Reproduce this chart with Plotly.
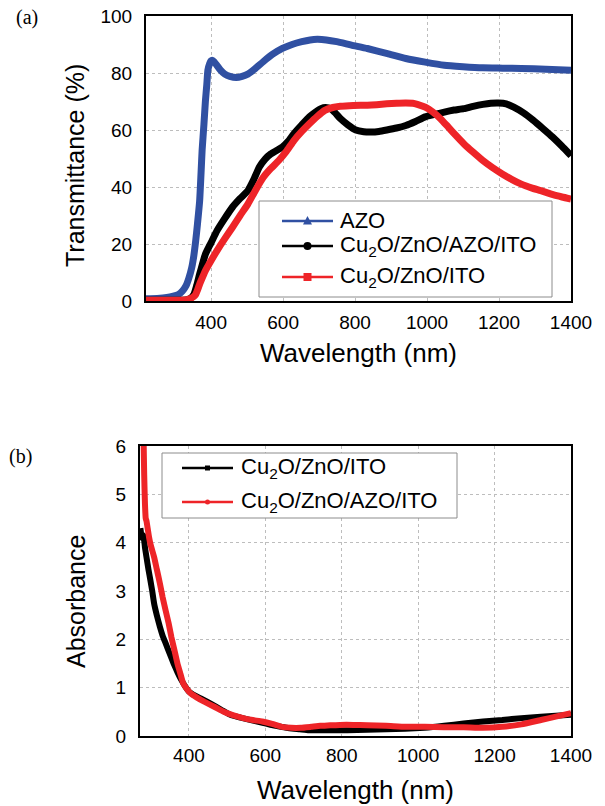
import plotly.graph_objects as go

# ---------------- (a) Transmittance data ----------------
azo_x = [219, 250, 277, 295, 309, 320, 330, 338, 346, 352, 357, 362, 368, 372, 375, 380, 384, 388, 391, 396, 400, 403, 408, 416, 426, 438, 452, 470, 486, 502, 522, 545, 570, 598, 625, 652, 675, 695, 720, 749, 790, 834, 890, 941, 995, 1048, 1100, 1155, 1210, 1262, 1330, 1400]
azo_y = [0.8, 0.9, 1.2, 1.7, 2.3, 3.5, 5.3, 8.0, 11.7, 16.0, 21.0, 27.0, 35.0, 45.0, 53.0, 62.0, 70.0, 76.0, 81.0, 83.3, 84.3, 84.5, 84.0, 82.7, 81.0, 79.6, 78.8, 78.4, 78.8, 79.6, 81.5, 84.0, 86.5, 88.6, 90.0, 91.0, 91.6, 91.8, 91.6, 91.0, 89.8, 88.6, 86.8, 85.1, 83.8, 82.7, 82.2, 81.8, 81.7, 81.6, 81.3, 81.0]

blk_x = [219, 280, 330, 342, 352, 360, 368, 376, 384, 400, 416, 437, 459, 480, 502, 518, 534, 550, 566, 582, 598, 614, 630, 652, 673, 690, 705, 718, 732, 745, 759, 780, 802, 824, 845, 866, 888, 915, 941, 968, 995, 1022, 1048, 1075, 1102, 1128, 1155, 1177, 1198, 1220, 1241, 1268, 1295, 1322, 1349, 1375, 1400]
blk_y = [0.3, 0.3, 0.4, 0.9, 2.3, 5.5, 9.4, 13.0, 16.4, 20.5, 24.6, 28.8, 32.9, 35.9, 38.7, 42.5, 47.0, 49.8, 51.6, 52.8, 54.0, 56.0, 58.7, 61.8, 64.6, 66.3, 67.5, 67.9, 67.5, 66.0, 64.0, 61.8, 60.0, 59.4, 59.3, 59.5, 60.0, 60.7, 61.6, 63.0, 64.6, 65.5, 66.3, 67.0, 67.5, 68.3, 69.0, 69.4, 69.5, 69.2, 68.0, 66.0, 63.4, 60.5, 57.5, 54.3, 51.0]

red_x = [219, 280, 330, 341, 350, 357, 362, 368, 376, 384, 400, 416, 437, 459, 480, 502, 523, 545, 566, 588, 609, 630, 652, 673, 695, 716, 738, 759, 795, 834, 860, 888, 915, 941, 960, 973, 995, 1016, 1038, 1059, 1080, 1102, 1128, 1155, 1182, 1209, 1235, 1262, 1290, 1316, 1350, 1375, 1400]
red_y = [0.3, 0.3, 0.4, 0.8, 1.4, 2.3, 3.8, 5.9, 8.3, 10.6, 14.2, 17.6, 21.7, 25.8, 29.9, 34.0, 38.8, 43.4, 46.5, 49.3, 52.5, 56.3, 59.5, 62.2, 64.8, 66.9, 67.9, 68.3, 68.6, 68.7, 68.9, 69.2, 69.4, 69.5, 69.4, 69.0, 68.0, 66.3, 63.9, 61.0, 58.1, 55.2, 52.2, 49.3, 46.8, 44.6, 42.7, 41.0, 39.7, 38.7, 37.3, 36.5, 35.8]

# ---------------- (b) Absorbance data ----------------
abs_blk_x = [273, 277, 281, 285, 289, 294, 299, 304, 309, 316, 324, 331, 339, 350, 360, 370, 380, 390, 400, 415, 430, 450, 471, 490, 511, 535, 562, 590, 613, 640, 663, 690, 714, 760, 815, 866, 916, 966, 1017, 1068, 1119, 1170, 1220, 1270, 1321, 1360, 1400]
abs_blk_y = [4.3, 4.1, 4.15, 3.9, 3.7, 3.45, 3.23, 3.0, 2.74, 2.5, 2.26, 2.08, 1.92, 1.7, 1.5, 1.32, 1.16, 1.03, 0.92, 0.84, 0.78, 0.70, 0.61, 0.52, 0.43, 0.38, 0.33, 0.28, 0.23, 0.19, 0.16, 0.14, 0.12, 0.12, 0.12, 0.13, 0.14, 0.15, 0.17, 0.21, 0.26, 0.30, 0.33, 0.37, 0.40, 0.42, 0.44]

abs_red_x = [279, 281, 283, 285, 287, 289, 292, 296, 300, 309, 316, 324, 331, 339, 347, 354, 362, 370, 378, 385, 395, 405, 420, 440, 465, 491, 515, 542, 567, 592, 618, 643, 668, 693, 720, 744, 770, 795, 830, 866, 916, 967, 1017, 1068, 1119, 1169, 1220, 1270, 1321, 1360, 1400]
abs_red_y = [7.0, 6.3, 5.4, 4.8, 4.5, 4.45, 4.3, 4.1, 3.95, 3.7, 3.45, 3.16, 2.88, 2.6, 2.33, 2.05, 1.78, 1.5, 1.28, 1.09, 0.97, 0.88, 0.80, 0.71, 0.61, 0.50, 0.43, 0.37, 0.33, 0.30, 0.25, 0.19, 0.17, 0.17, 0.19, 0.21, 0.22, 0.23, 0.23, 0.22, 0.21, 0.19, 0.19, 0.18, 0.18, 0.17, 0.19, 0.24, 0.33, 0.40, 0.47]

wl_ticks = [400, 600, 800, 1000, 1200, 1400]
top_yticks = [0, 20, 40, 60, 80, 100]
bot_yticks = [0, 1, 2, 3, 4, 5, 6]

# legend labels
legend_a = ["AZO", "Cu<sub>2</sub>O/ZnO/AZO/ITO", "Cu<sub>2</sub>O/ZnO/ITO"]
legend_b = ["Cu<sub>2</sub>O/ZnO/ITO", "Cu<sub>2</sub>O/ZnO/AZO/ITO"]

BLUE = "#3050A2"
RED = "#EE2428"
BLACK = "#000000"
FONT = "Liberation Sans, Arial, sans-serif"
SERIF = "Liberation Serif, Times New Roman, serif"
W, H = 605, 806
OFF = 0  # page body margin is removed below, so figure pixels == page pixels


def X(px):
    return (px - OFF) / W


def Y(py):
    return 1 - (py - OFF) / H


fig = go.Figure()

# --- (a) curves ---
for x, y, c, n in [(azo_x, azo_y, BLUE, legend_a[0]), (blk_x, blk_y, BLACK, legend_a[1]), (red_x, red_y, RED, legend_a[2])]:
    fig.add_trace(go.Scatter(x=x, y=y, mode="lines", name=n, line=dict(color=c, width=7, shape="spline", smoothing=0.5),
                             showlegend=False, xaxis="x", yaxis="y"))

# --- (b) curves ---
fig.add_trace(go.Scatter(x=abs_blk_x, y=abs_blk_y, mode="lines", name=legend_b[0],
                         line=dict(color=BLACK, width=6, shape="spline", smoothing=0.4),
                         showlegend=False, xaxis="x2", yaxis="y2"))
fig.add_trace(go.Scatter(x=abs_red_x, y=abs_red_y, mode="lines", name=legend_b[1],
                         line=dict(color=RED, width=6, shape="spline", smoothing=0.4),
                         showlegend=False, xaxis="x2", yaxis="y2"))

axis_common = dict(showline=True, mirror=True, linecolor="black", linewidth=2,
                   showgrid=True, gridcolor="#bdbdbd", griddash="dot", gridwidth=1,
                   zeroline=False, ticks="outside", tickcolor="rgba(0,0,0,0)",
                   ticklabeloverflow="allow", automargin=False,
                   tickfont=dict(family=FONT, size=19, color="black"))

shapes = []
annotations = []


def legend_box(x0, y0, x1, y1):
    shapes.append(dict(type="rect", xref="paper", yref="paper", x0=X(x0), x1=X(x1), y0=Y(y1), y1=Y(y0),
                       fillcolor="white", line=dict(color="#8c8c8c", width=1), layer="above"))


def legend_entry(lx0, lx1, py, color, symbol, ms, text, tx, fs):
    shapes.append(dict(type="line", xref="paper", yref="paper", x0=X(lx0), x1=X(lx1), y0=Y(py), y1=Y(py),
                       line=dict(color=color, width=2.5), layer="above"))
    cx = (lx0 + lx1) / 2
    h = ms / 2
    if symbol == "circle":
        shapes.append(dict(type="circle", xref="paper", yref="paper", x0=X(cx - h), x1=X(cx + h), y0=Y(py + h), y1=Y(py - h),
                           fillcolor=color, line=dict(color=color, width=0), layer="above"))
    elif symbol == "square":
        shapes.append(dict(type="rect", xref="paper", yref="paper", x0=X(cx - h), x1=X(cx + h), y0=Y(py + h), y1=Y(py - h),
                           fillcolor=color, line=dict(color=color, width=0), layer="above"))
    else:
        path = "M {:.5f},{:.5f} L {:.5f},{:.5f} L {:.5f},{:.5f} Z".format(
            X(cx - h), Y(py + h * 0.8), X(cx + h), Y(py + h * 0.8), X(cx), Y(py - h * 1.1))
        shapes.append(dict(type="path", xref="paper", yref="paper", path=path,
                           fillcolor=color, line=dict(color=color, width=0), layer="above"))
    annotations.append(dict(text=text, x=X(tx), y=Y(py), xref="paper", yref="paper", showarrow=False,
                            xanchor="left", yanchor="middle", font=dict(family=FONT, size=fs, color="black")))


# legend (a)
legend_box(259, 201, 552, 297)
legend_entry(282, 333, 221, BLUE, "triangle", 9, legend_a[0], 338, 22)
legend_entry(282, 333, 246, BLACK, "circle", 8, legend_a[1], 338, 22)
legend_entry(282, 333, 277, RED, "square", 8, legend_a[2], 338, 22)

# legend (b)
legend_box(162, 453, 457, 518)
legend_entry(182, 233, 468, BLACK, "square", 5, legend_b[0], 239, 22)
legend_entry(182, 233, 502, RED, "circle", 5, legend_b[1], 239, 22)

annotations += [
    dict(text="Transmittance (%)", x=X(75), y=Y(166), xref="paper", yref="paper", textangle=-90,
         showarrow=False, font=dict(family=FONT, size=25, color="black"), xanchor="center", yanchor="middle"),
    dict(text="Wavelength (nm)", x=X(358), y=Y(353), xref="paper", yref="paper",
         showarrow=False, font=dict(family=FONT, size=26, color="black"), xanchor="center", yanchor="middle"),
    dict(text="Absorbance", x=X(76), y=Y(602), xref="paper", yref="paper", textangle=-90,
         showarrow=False, font=dict(family=FONT, size=25, color="black"), xanchor="center", yanchor="middle"),
    dict(text="Wavelength (nm)", x=X(355), y=Y(790), xref="paper", yref="paper",
         showarrow=False, font=dict(family=FONT, size=26, color="black"), xanchor="center", yanchor="middle"),
    dict(text="(a)", x=X(26.5), y=Y(18), xref="paper", yref="paper",
         showarrow=False, font=dict(family=SERIF, size=20, color="black"), xanchor="center", yanchor="middle"),
    dict(text="(b)", x=X(20.5), y=Y(456), xref="paper", yref="paper",
         showarrow=False, font=dict(family=SERIF, size=20, color="black"), xanchor="center", yanchor="middle"),
]

fig.update_layout(
    template="none",
    width=W, height=H,
    margin=dict(l=0, r=0, t=0, b=0, pad=0, autoexpand=False),
    paper_bgcolor="white", plot_bgcolor="white",
    showlegend=False,
    xaxis=dict(domain=[X(146), X(571)], range=[219, 1400], tickvals=wl_ticks, anchor="y", ticklen=3, **axis_common),
    yaxis=dict(domain=[Y(301), Y(16)], range=[0, 100], tickvals=top_yticks, anchor="x", ticklen=8, **axis_common),
    xaxis2=dict(domain=[X(140), X(571)], range=[272, 1400], tickvals=wl_ticks, anchor="y2", ticklen=1, **axis_common),
    yaxis2=dict(domain=[Y(736), Y(446)], range=[0, 6], tickvals=bot_yticks, anchor="x2", ticklen=8, **axis_common),
    shapes=shapes,
    annotations=annotations,
)

fig.write_html("out.html", config={"displayModeBar": False},
               post_script="document.body.style.margin='0px';")
